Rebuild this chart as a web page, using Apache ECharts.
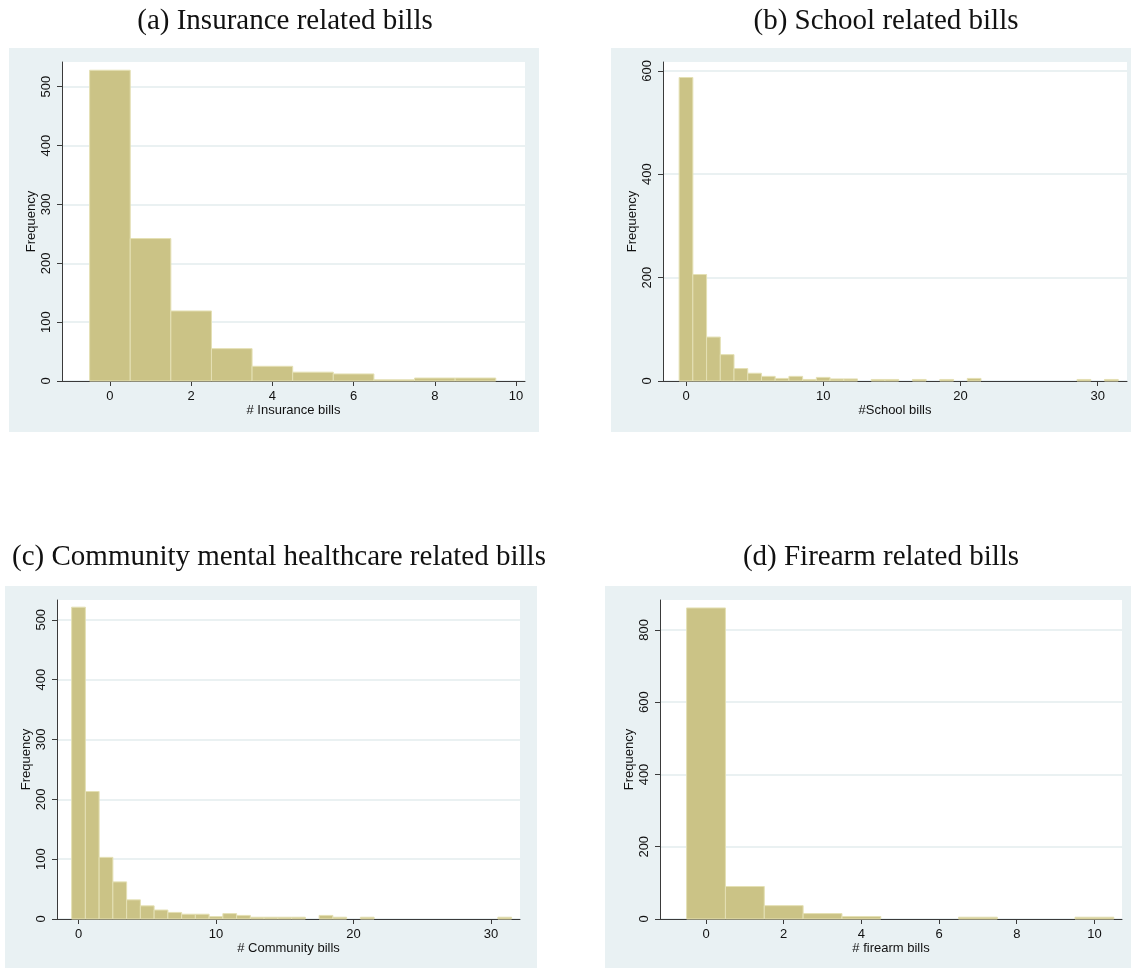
<!DOCTYPE html>
<html>
<head>
<meta charset="utf-8">
<script src="https://cdn.jsdelivr.net/npm/echarts@6/dist/echarts.min.js"></script>
<style>
  html, body { margin: 0; padding: 0; background: #ffffff; }
  #chart { width: 1131px; height: 968px; }
</style>
</head>
<body>
<div id="chart"></div>
<script>
// ---------- data ----------
const titles = [
  "(a) Insurance related bills",
  "(b) School related bills",
  "(c) Community mental healthcare related bills",
  "(d) Firearm related bills"
];
const xNames = ["# Insurance bills", "#School bills", "# Community bills", "# firearm bills"];
const yName = "Frequency";

const insuranceBins = [0, 1, 2, 3, 4, 5, 6, 7, 8, 9];
const insuranceFreq = [528, 242, 119, 55, 25, 15, 12, 2, 5, 5];

const schoolBins = [0,1,2,3,4,5,6,7,8,9,10,11,12,13,14,15,16,17,18,19,20,21,22,23,24,25,26,27,28,29,30,31];
const schoolFreq = [587,206,85,51,24,15,9,5,9,3,7,4,4,0,3,3,0,3,0,3,0,5,0,0,0,0,0,0,0,3,0,3];

const communityBins = [0,1,2,3,4,5,6,7,8,9,10,11,12,13,14,15,16,17,18,19,20,21,22,23,24,25,26,27,28,29,30,31];
const communityFreq = [521,213,103,62,32,22,15,11,8,8,4,9,6,3,3,3,3,0,6,3,0,3,0,0,0,0,0,0,0,0,0,3];

const firearmBins = [0,1,2,3,4,5,6,7,8,9,10];
const firearmFreq = [861,90,37,15,7,0,0,5,0,0,5];

const xTicksA = [0, 2, 4, 6, 8, 10];
const xTicksB = [0, 10, 20, 30];
const xTicksC = [0, 10, 20, 30];
const xTicksD = [0, 2, 4, 6, 8, 10];

const yTicksA = [0, 100, 200, 300, 400, 500];
const yTicksB = [0, 200, 400, 600];
const yTicksC = [0, 100, 200, 300, 400, 500];
const yTicksD = [0, 200, 400, 600, 800];

const binWidth = 1;

// ---------- style / layout ----------
const PANEL_BG = '#e9f1f3';
const BAR_FILL = '#cbc386';
const BAR_STROKE = '#e4e0b4';
const AXIS_COLOR = '#3a3a3a';
const GRID_COLOR = '#e3ecee';
const SANS = 'Liberation Sans, Arial, sans-serif';
const SERIF = 'Liberation Serif, Times New Roman, serif';

const panels = [
  { bg: [9, 48, 530, 384],   grid: { left: 62,  top: 62,  width: 463, height: 319 }, xMin: -1.18, xMax: 10.22, yMax: 542, title: [280, 16] },
  { bg: [611, 48, 520, 384], grid: { left: 663, top: 62,  width: 464, height: 319 }, xMin: -1.676, xMax: 32.14, yMax: 617, title: [881, 16] },
  { bg: [5, 586, 532, 382],  grid: { left: 57,  top: 600, width: 463, height: 319 }, xMin: -1.564, xMax: 32.11, yMax: 533, title: [274, 552] },
  { bg: [605, 586, 526, 382], grid: { left: 660, top: 600, width: 462, height: 319 }, xMin: -1.185, xMax: 10.71, yMax: 883, title: [876, 552] }
];

const bins = [insuranceBins, schoolBins, communityBins, firearmBins];
const freqs = [insuranceFreq, schoolFreq, communityFreq, firearmFreq];
const xTicks = [xTicksA, xTicksB, xTicksC, xTicksD];
const yTicks = [yTicksA, yTicksB, yTicksC, yTicksD];

const chart = echarts.init(document.getElementById('chart'), null, { renderer: 'canvas' });

const option = {
  backgroundColor: '#ffffff',
  animation: false,
  graphic: panels.map(p => ({
    type: 'rect', silent: true, z: -10,
    shape: { x: p.bg[0], y: p.bg[1], width: p.bg[2], height: p.bg[3] },
    style: { fill: PANEL_BG }
  })),
  title: panels.map((p, i) => ({
    text: titles[i],
    left: p.title[0], top: p.title[1],
    textAlign: 'center', textVerticalAlign: 'middle',
    textStyle: { fontFamily: SERIF, fontSize: 29, fontWeight: 'normal', color: '#111' }
  })),
  grid: panels.map(p => Object.assign({ show: true, backgroundColor: '#ffffff', borderWidth: 0 }, p.grid)),
  xAxis: panels.map((p, i) => ({
    type: 'value', gridIndex: i, min: p.xMin, max: p.xMax,
    name: xNames[i], nameLocation: 'middle', nameGap: 23,
    nameTextStyle: { fontFamily: SANS, fontSize: 13, color: '#111' },
    axisLine: { show: true, onZero: false, lineStyle: { color: AXIS_COLOR, width: 1 } },
    axisTick: { show: true, length: 5, customValues: xTicks[i], lineStyle: { color: AXIS_COLOR } },
    axisLabel: { customValues: xTicks[i], margin: 9, fontFamily: SANS, fontSize: 13, color: '#111' },
    splitLine: { show: false }
  })),
  yAxis: panels.map((p, i) => ({
    type: 'value', gridIndex: i, min: 0, max: p.yMax,
    name: yName, nameLocation: 'middle', nameGap: 24, nameRotate: 90,
    nameTextStyle: { fontFamily: SANS, fontSize: 13, color: '#111' },
    axisLine: { show: true, onZero: false, lineStyle: { color: AXIS_COLOR, width: 1 } },
    axisTick: { show: true, length: 5, customValues: yTicks[i], lineStyle: { color: AXIS_COLOR } },
    axisLabel: { customValues: yTicks[i], rotate: 90, margin: 9, fontFamily: SANS, fontSize: 13, color: '#111' },
    splitLine: { show: true, lineStyle: { color: GRID_COLOR, width: 1.5 } }
  })),
  series: panels.map((p, i) => ({
    type: 'custom', xAxisIndex: i, yAxisIndex: i,
    data: bins[i].map((b, k) => [b, freqs[i][k]]),
    renderItem: function (params, api) {
      const x = api.value(0), y = api.value(1);
      if (!y) return null;
      const p0 = api.coord([x - binWidth / 2, y]);
      const p1 = api.coord([x + binWidth / 2, 0]);
      return {
        type: 'rect',
        shape: { x: p0[0], y: p0[1], width: p1[0] - p0[0], height: p1[1] - p0[1] },
        style: { fill: BAR_FILL, stroke: BAR_STROKE, lineWidth: 1 }
      };
    }
  }))
};

chart.setOption(option);
</script>
</body>
</html>
